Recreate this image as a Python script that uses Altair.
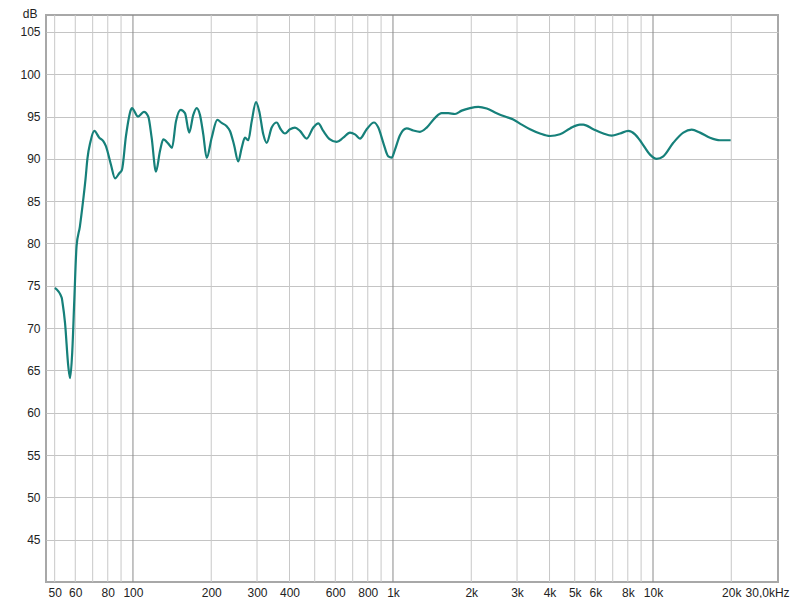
import altair as alt
import pandas as pd

# Frequency response (Hz, dB)
freq = [50.1, 53.2, 53.6, 54.8, 56.4, 57.3, 58.4, 59.5, 60.7, 62.5, 64.4, 65.7, 66.8, 68.6,
        71.0, 74.2, 76.9, 78.7, 82.3, 85.3, 88.6, 90.7, 94.0, 98.2, 99.1, 104.5, 110.2, 114.5,
        118.0, 122.6, 127.0, 130.8, 136.7, 141.3, 146.3, 152.6, 158.5, 164.6, 170.6, 175.8,
        181.0, 186.4, 192.1, 200.8, 211.0, 219.4, 229.3, 236.1, 244.6, 254.1, 261.9, 269.7,
        277.7, 286.1, 297.3, 306.1, 317.1, 326.8, 341.6, 357.1, 370.0, 384.3, 401.8, 419.9,
        438.8, 465.6, 493.8, 516.1, 539.4, 572.4, 607.4, 643.9, 683.3, 714.2, 746.6, 792.2,
        845.3, 878.2, 917.8, 959.2, 988.6, 1018, 1064, 1129, 1197, 1270, 1348, 1451, 1539,
        1632, 1732, 1838, 1978, 2129, 2294, 2505, 2697, 2901, 3126, 3365, 3676, 4017, 4388,
        4796, 5239, 5395, 5894, 6441, 6937, 7467, 8035, 8527, 9048, 9739, 10333, 10955, 11970,
        13079, 14086, 15166, 16565, 18099, 19894]
db = [74.75, 73.6, 73.0, 70.6, 65.5, 64.1, 67.1, 73.4, 79.7, 82.0, 85.2, 87.6, 90.0, 92.0,
      93.3, 92.5, 92.1, 91.5, 89.3, 87.7, 88.3, 88.7, 92.7, 95.8, 96.0, 95.0, 95.55, 95.0,
      92.5, 88.5, 90.9, 92.3, 91.8, 91.3, 94.4, 95.8, 95.4, 93.1, 95.2, 96.0,
      95.2, 92.9, 90.1, 92.5, 94.6, 94.25, 93.85, 93.3, 91.7, 89.7, 91.3, 92.5,
      92.2, 94.4, 96.7, 95.6, 92.9, 91.9, 93.7, 94.3, 93.5, 93.0, 93.5, 93.7,
      93.3, 92.4, 93.7, 94.2, 93.3, 92.3, 92.0, 92.5, 93.1, 92.9, 92.4, 93.5,
      94.3, 93.7, 91.9, 90.3, 90.15, 91.1, 92.8, 93.6, 93.35, 93.2, 93.7, 94.85, 95.4,
      95.4, 95.3, 95.7, 96.0, 96.15, 95.95, 95.4, 95.0, 94.65, 94.05, 93.5, 93.0, 92.7, 92.9,
      93.6, 94.05, 94.05, 93.5, 93.0, 92.75, 93.0, 93.3, 92.9, 91.9, 90.5, 90.0, 90.3, 91.9,
      93.1, 93.45, 93.1, 92.5, 92.2, 92.2]

x_ticks = [50, 60, 80, 100, 200, 300, 400, 600, 800, 1000, 2000, 3000, 4000, 5000, 6000,
           8000, 10000, 20000, 30000]
y_ticks = [45, 50, 55, 60, 65, 70, 75, 80, 85, 90, 95, 100, 105]
minor_grid = [50, 60, 70, 80, 90, 200, 300, 400, 500, 600, 700, 800, 900,
              2000, 3000, 4000, 5000, 6000, 7000, 8000, 9000, 20000]
major_grid = [100, 1000, 10000]

FONT = "Liberation Sans"
x_scale = alt.Scale(type="log", domain=[46.3, 30250], nice=False)
y_scale = alt.Scale(domain=[40, 107], nice=False, zero=False)

x_axis = alt.Axis(
    values=x_ticks,
    labelExpr="datum.value >= 30000 ? '30,0kHz' : (datum.value >= 1000 ? (datum.value/1000) + 'k' : '' + datum.value)",
    grid=False, ticks=False, domain=False, labelPadding=5,
    labelFont=FONT, labelFontSize=12, labelColor="#222222",
    labelOverlap=False, labelBound=False, labelFlush=False,
    labelOffset=alt.condition("datum.value >= 30000", alt.value(-10), alt.value(0)),
    title=None,
)
y_axis = alt.Axis(
    values=y_ticks, grid=True, gridColor="#c4c4c4", gridWidth=1,
    ticks=False, domain=False, labelPadding=6,
    labelFont=FONT, labelFontSize=12, labelColor="#222222",
    title="dB", titleAngle=0, titleAlign="right", titleBaseline="top",
    titleX=-9, titleY=-7, titleFont=FONT, titleFontSize=12,
    titleFontWeight="normal", titleColor="#222222",
)

grid_minor = alt.Chart(pd.DataFrame({"f": minor_grid})).mark_rule(
    color="#c8c8c8", strokeWidth=1
).encode(x=alt.X("f:Q", scale=x_scale, axis=x_axis))

grid_major = alt.Chart(pd.DataFrame({"f": major_grid})).mark_rule(
    color="#8a8a8a", strokeWidth=1
).encode(x=alt.X("f:Q", scale=x_scale, axis=x_axis))

line = alt.Chart(pd.DataFrame({"f": freq, "db": db})).mark_line(
    color="#16807a", strokeWidth=2.2, interpolate="monotone"
).encode(
    x=alt.X("f:Q", scale=x_scale, axis=x_axis),
    y=alt.Y("db:Q", scale=y_scale, axis=y_axis),
)

chart = alt.layer(grid_minor, grid_major, line).properties(
    width=732, height=567,
    autosize=alt.AutoSizeParams(type="none"),
    padding={"left": 38, "top": 7, "right": 14, "bottom": 16},
    background="white",
).configure_view(stroke="#a8a8a8", strokeWidth=2)

chart.save("out.html", embed_options={"renderer": "svg", "actions": False})
